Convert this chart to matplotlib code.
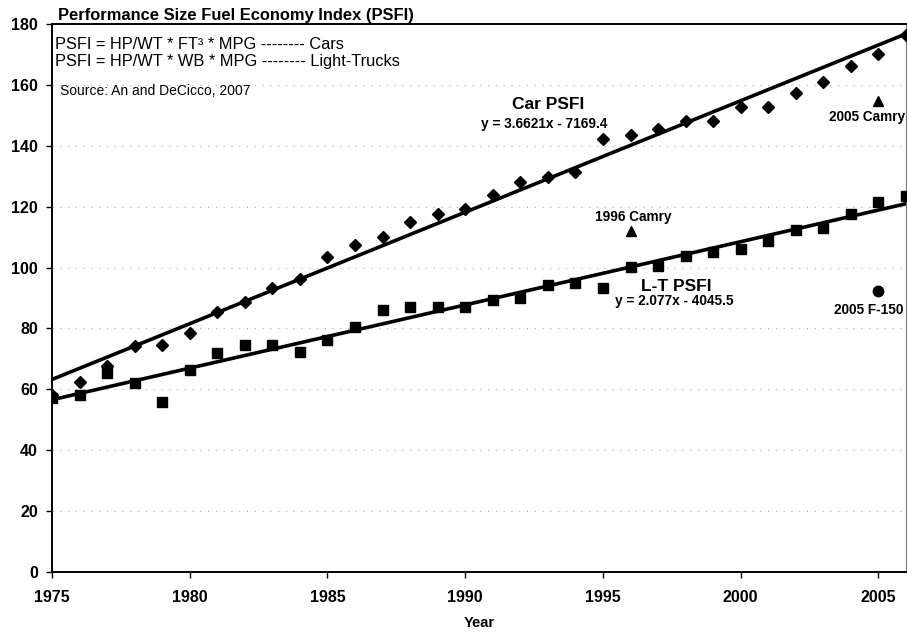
import matplotlib
matplotlib.use("Agg")
import matplotlib.pyplot as plt
import numpy as np

plt.rcParams['font.family'] = ['Liberation Sans', 'DejaVu Sans']

years = list(range(1975, 2007))
car_psfi = [58.0, 62.5, 67.8, 74.2, 74.5, 78.5, 85.4, 88.6, 93.4, 96.2, 103.4, 107.5,
            110.0, 114.9, 117.5, 119.3, 123.8, 128.0, 129.8, 131.5, 142.2, 143.6, 145.6,
            148.1, 148.1, 152.9, 152.8, 157.2, 160.9, 166.3, 170.3, 176.5]
lt_psfi = [57.1, 58.1, 65.5, 62.0, 55.8, 66.5, 71.8, 74.5, 74.5, 72.3, 76.3, 80.6,
           85.9, 86.9, 87.1, 87.2, 89.4, 90.1, 94.2, 94.8, 93.3, 100.1, 100.6, 103.9,
           105.0, 106.1, 108.6, 112.3, 113.1, 117.5, 121.6, 123.5]
car_fit = [3.6621, -7169.4]
lt_fit = [2.077, -4045.5]
special_years = [1996, 2005]
special_camry = [112.0, 154.6]
f150_year = [2005]
f150_value = [92.2]

fig = plt.figure(figsize=(9.07, 6.34), dpi=100)
ax = fig.add_axes([52/907, 1 - 572/634, (906 - 52)/907, (572 - 24)/634])

xl = np.array([1975, 2006])
ax.plot(xl, car_fit[0]*xl + car_fit[1], color='black', lw=2.6, zorder=2)
ax.plot(xl, lt_fit[0]*xl + lt_fit[1], color='black', lw=2.6, zorder=2)

ax.plot(years, car_psfi, linestyle='none', marker='D', color='black', markersize=6.0, zorder=3)
ax.plot(years, lt_psfi, linestyle='none', marker='s', color='black', markersize=7, zorder=3)
ax.plot(special_years, special_camry, linestyle='none', marker='^', color='black', markersize=7.5, zorder=3)
ax.plot(f150_year, f150_value, linestyle='none', marker='o', color='black', markersize=7.5, zorder=3)

ax.set_xlim(1975, 2006)
ax.set_ylim(0, 180)
ax.set_xticks(range(1975, 2006, 5))
ax.set_yticks(range(0, 181, 20))
ax.tick_params(axis='both', direction='out', length=4, width=1, labelsize=11.5)
ax.tick_params(axis='x', pad=9)
ax.tick_params(axis='y', pad=6)
for lab in ax.get_xticklabels() + ax.get_yticklabels():
    lab.set_fontweight('bold')
ax.set_xlabel('Year', fontsize=10.5, fontweight='bold', labelpad=8)

for s in ['left', 'bottom', 'top']:
    ax.spines[s].set_linewidth(1.4)
    ax.spines[s].set_color('black')
ax.spines['right'].set_linewidth(0.8)
ax.spines['right'].set_color('#777777')

ax.yaxis.grid(True, linestyle=(0, (1, 6)), color='#aaaaaa', linewidth=0.8)
ax.set_axisbelow(True)

# Header text
fig.text(58/907, 1 - 20/634, 'Performance Size Fuel Economy Index (PSFI)', fontsize=11.9,
         fontweight='bold', ha='left', va='baseline')
fig.text(55/907, 1 - 49/634, 'PSFI = HP/WT * FT\u00b3 * MPG -------- Cars', fontsize=11.8,
         ha='left', va='baseline')
fig.text(55/907, 1 - 66/634, 'PSFI = HP/WT * WB * MPG -------- Light-Trucks', fontsize=11.8,
         ha='left', va='baseline')
fig.text(60/907, 1 - 95/634, 'Source: An and DeCicco, 2007', fontsize=10,
         ha='left', va='baseline')

ax.text(1993.0, 153.4, 'Car PSFI', fontsize=12.5, fontweight='bold', ha='center', va='center')
ax.text(1992.85, 147.2, 'y = 3.6621x - 7169.4', fontsize=9.8, fontweight='bold', ha='center', va='center')
ax.text(1997.65, 93.7, 'L-T PSFI', fontsize=12.5, fontweight='bold', ha='center', va='center')
ax.text(1997.6, 89.0, 'y = 2.077x - 4045.5', fontsize=9.8, fontweight='bold', ha='center', va='center')
ax.text(1996.1, 116.5, '1996 Camry', fontsize=9.8, fontweight='bold', ha='center', va='center')
ax.text(2004.57, 149.3, '2005 Camry', fontsize=9.8, fontweight='bold', ha='center', va='center')
ax.text(2004.66, 86.1, '2005 F-150', fontsize=9.8, fontweight='bold', ha='center', va='center')

fig.savefig('out.png', dpi=100)
